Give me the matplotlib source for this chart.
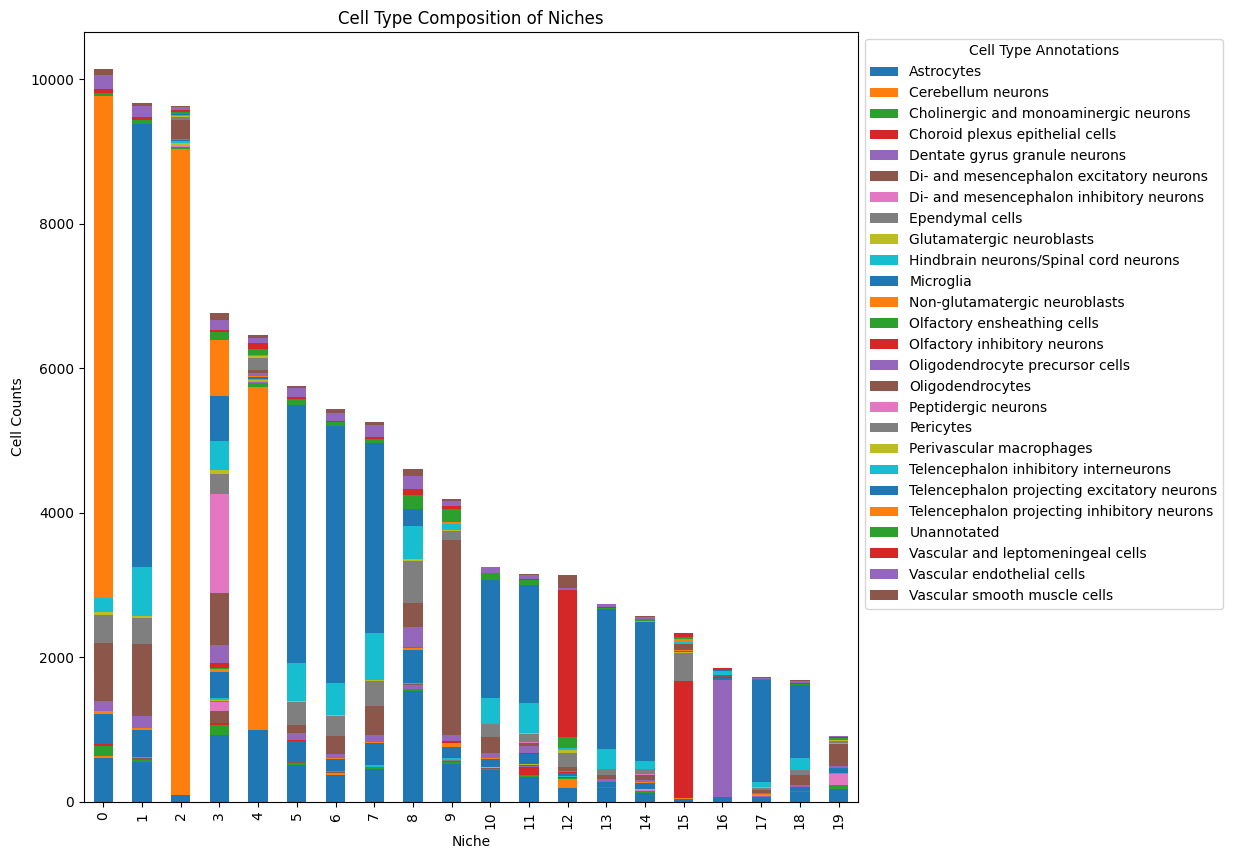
import matplotlib
matplotlib.use("Agg")
import matplotlib.pyplot as plt
import pandas as pd

niches = list(range(20))

# cell counts per niche (0..19), one list per cell type
astrocytes = [615, 554, 97, 928, 997, 512, 374, 457, 1537, 526, 443, 346, 194, 194, 125, 42, 69, 69, 139, 180]
cerebellum_neurons = [20, 0, 8933, 0, 4751, 0, 28, 0, 0, 0, 0, 0, 125, 0, 0, 14, 0, 0, 0, 0]
cholinergic = [146, 28, 28, 139, 42, 28, 0, 28, 28, 28, 14, 28, 14, 14, 28, 0, 0, 0, 14, 55]
choroid_plexus = [25, 0, 0, 28, 0, 0, 0, 0, 0, 0, 0, 111, 14, 0, 0, 1620, 0, 0, 0, 0]
dentate_gyrus = [0, 0, 0, 0, 14, 0, 0, 0, 55, 0, 0, 14, 0, 0, 0, 0, 1620, 14, 0, 0]
dimes_excitatory = [0, 20, 0, 166, 0, 14, 14, 0, 14, 14, 14, 14, 0, 0, 0, 0, 0, 0, 0, 0]
dimes_inhibitory = [0, 0, 14, 125, 14, 0, 0, 0, 0, 0, 0, 0, 0, 0, 14, 0, 0, 14, 0, 152]
ependymal = [0, 0, 0, 14, 0, 0, 14, 0, 0, 14, 0, 0, 0, 0, 0, 388, 0, 0, 0, 0]
glut_neuroblasts = [0, 0, 45, 14, 14, 0, 0, 0, 0, 0, 14, 14, 0, 0, 14, 14, 0, 0, 0, 0]
hindbrain = [0, 23, 28, 28, 14, 0, 0, 28, 14, 28, 0, 0, 14, 0, 0, 0, 0, 0, 0, 14]
microglia = [411, 374, 14, 360, 28, 291, 166, 305, 457, 152, 111, 139, 42, 69, 83, 14, 28, 0, 55, 69]
nonglut_neuroblasts = [35, 28, 0, 42, 14, 0, 14, 14, 28, 55, 14, 0, 0, 0, 14, 14, 0, 14, 0, 0]
olf_ensheathing = [0, 0, 0, 5, 0, 0, 0, 0, 5, 0, 0, 0, 0, 0, 0, 0, 0, 0, 0, 0]
olf_inhibitory = [0, 0, 0, 69, 0, 14, 0, 0, 0, 28, 0, 14, 14, 0, 0, 0, 14, 0, 0, 0]
opc = [139, 166, 14, 249, 42, 97, 55, 97, 277, 83, 69, 97, 14, 42, 28, 0, 0, 14, 28, 28]
oligodendrocytes = [809, 997, 260, 720, 42, 111, 249, 402, 332, 2701, 222, 42, 55, 55, 69, 83, 28, 42, 139, 305]
peptidergic = [0, 0, 0, 1371, 0, 0, 0, 0, 0, 0, 0, 14, 0, 0, 14, 0, 0, 0, 0, 14]
pericytes = [384, 360, 42, 277, 166, 319, 277, 346, 582, 125, 180, 111, 194, 83, 69, 0, 0, 28, 69, 28]
perivascular_macro = [46, 28, 14, 55, 28, 14, 14, 14, 28, 14, 0, 14, 42, 0, 0, 0, 0, 14, 0, 14]
tel_inh_interneurons = [186, 677, 14, 402, 14, 526, 443, 651, 457, 83, 360, 416, 28, 277, 111, 28, 55, 69, 166, 0]
tel_proj_excitatory = [0, 6122, 14, 623, 0, 3573, 3560, 2618, 235, 0, 1634, 1634, 0, 1939, 1925, 0, 14, 1413, 1011, 0]
tel_proj_inhibitory = [6958, 0, 0, 776, 0, 0, 0, 0, 0, 28, 0, 0, 0, 0, 14, 42, 0, 0, 0, 0]
unannotated = [40, 55, 28, 111, 83, 83, 55, 55, 194, 180, 97, 69, 152, 14, 28, 28, 0, 14, 14, 28]
vlmc = [53, 42, 28, 28, 83, 14, 14, 28, 83, 42, 0, 14, 2036, 14, 0, 55, 28, 0, 14, 14]
vasc_endothelial = [186, 152, 42, 139, 69, 125, 111, 166, 180, 69, 83, 55, 28, 42, 28, 0, 0, 14, 28, 14]
vasc_smooth_muscle = [93, 42, 14, 97, 42, 28, 42, 42, 97, 28, 0, 14, 180, 0, 14, 0, 0, 14, 14, 0]

counts = pd.DataFrame({
    "Astrocytes": astrocytes,
    "Cerebellum neurons": cerebellum_neurons,
    "Cholinergic and monoaminergic neurons": cholinergic,
    "Choroid plexus epithelial cells": choroid_plexus,
    "Dentate gyrus granule neurons": dentate_gyrus,
    "Di- and mesencephalon excitatory neurons": dimes_excitatory,
    "Di- and mesencephalon inhibitory neurons": dimes_inhibitory,
    "Ependymal cells": ependymal,
    "Glutamatergic neuroblasts": glut_neuroblasts,
    "Hindbrain neurons/Spinal cord neurons": hindbrain,
    "Microglia": microglia,
    "Non-glutamatergic neuroblasts": nonglut_neuroblasts,
    "Olfactory ensheathing cells": olf_ensheathing,
    "Olfactory inhibitory neurons": olf_inhibitory,
    "Oligodendrocyte precursor cells": opc,
    "Oligodendrocytes": oligodendrocytes,
    "Peptidergic neurons": peptidergic,
    "Pericytes": pericytes,
    "Perivascular macrophages": perivascular_macro,
    "Telencephalon inhibitory interneurons": tel_inh_interneurons,
    "Telencephalon projecting excitatory neurons": tel_proj_excitatory,
    "Telencephalon projecting inhibitory neurons": tel_proj_inhibitory,
    "Unannotated": unannotated,
    "Vascular and leptomeningeal cells": vlmc,
    "Vascular endothelial cells": vasc_endothelial,
    "Vascular smooth muscle cells": vasc_smooth_muscle,
}, index=pd.Index(niches, name="Niche"))

fig = plt.figure(figsize=(12.33, 8.59), dpi=100)
ax = fig.add_axes([0.0681, 0.0664, 0.6277, 0.8964])
counts.plot(kind="bar", stacked=True, ax=ax)
ax.set_title("Cell Type Composition of Niches")
ax.set_xlabel("Niche")
ax.set_ylabel("Cell Counts")
ax.legend(title="Cell Type Annotations", bbox_to_anchor=(1.0, 1.0), loc="upper left")
fig.savefig("out.png", dpi=100)
plt.close(fig)
